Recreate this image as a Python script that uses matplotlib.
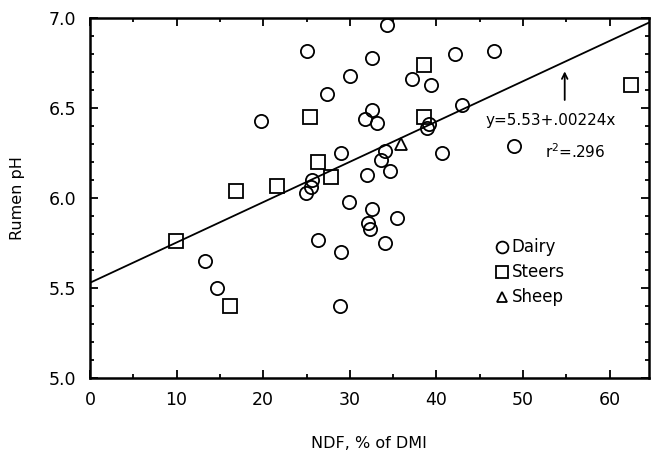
import numpy as np
import matplotlib.pyplot as plt
from matplotlib.ticker import MultipleLocator

# data
dairy_x = [25.1, 32.5, 34.3, 30.0, 27.4, 19.7, 32.5, 31.8, 33.1, 42.1, 46.6,
           37.2, 39.4, 43.0, 39.1, 38.9, 48.9, 34.0, 33.6, 40.6, 32.0, 34.6,
           29.0, 25.6, 25.5, 24.9, 29.9, 32.6, 32.1, 32.3, 35.4, 34.1, 26.3,
           29.0, 13.3, 14.7, 28.9]
dairy_y = [6.82, 6.78, 6.96, 6.68, 6.58, 6.43, 6.49, 6.44, 6.42, 6.80, 6.82,
           6.66, 6.63, 6.52, 6.41, 6.39, 6.29, 6.26, 6.21, 6.25, 6.13, 6.15,
           6.25, 6.10, 6.06, 6.03, 5.98, 5.94, 5.86, 5.83, 5.89, 5.75, 5.77,
           5.70, 5.65, 5.50, 5.40]
steers_x = [25.4, 26.3, 27.8, 21.6, 16.9, 9.9, 16.2, 38.6, 38.6, 62.4]
steers_y = [6.45, 6.20, 6.12, 6.07, 6.04, 5.76, 5.40, 6.74, 6.45, 6.63]
sheep_x = [35.9]
sheep_y = [6.30]

intercept = 5.53
slope = 0.0224

plt.rcParams['font.family'] = ['DejaVu Sans']

fig = plt.figure(figsize=(6.52, 4.54), dpi=100)
ax = fig.add_axes([0.138, 0.167, 0.857, 0.793])

mk = dict(linestyle='none', markerfacecolor='none', markeredgecolor='black',
          markeredgewidth=1.3)
ax.plot(dairy_x, dairy_y, marker='o', markersize=9.5, **mk)
ax.plot(steers_x, steers_y, marker='s', markersize=9.5, **mk)
ax.plot(sheep_x, sheep_y, marker='^', markersize=8, **mk)

xl = np.array([0, 64.5])
ax.plot(xl, intercept + slope * xl, color='black', lw=1.3)

# arrow + equation
ax.annotate('', xy=(54.8, 6.72), xytext=(54.8, 6.53),
            arrowprops=dict(arrowstyle='->', color='black', lw=1.3))
ax.text(53.2, 6.43, 'y=5.53+.00224x', ha='center', va='center', fontsize=11)
ax.text(56.0, 6.26, r'r$^2$=.296', ha='center', va='center', fontsize=11)

# hand-drawn style legend
leg_y = [5.73, 5.59, 5.45]
leg_lab = ['Dairy', 'Steers', 'Sheep']
leg_mk = ['o', 's', '^']
for yy, lab, m in zip(leg_y, leg_lab, leg_mk):
    ax.plot([47.6], [yy], marker=m, markersize=8.5 if m != '^' else 7, **mk)
    ax.text(48.7, yy, lab, ha='left', va='center', fontsize=12)

ax.set_xlim(0, 64.5)
ax.set_ylim(5.0, 7.0)
ax.xaxis.set_major_locator(MultipleLocator(10))
ax.xaxis.set_minor_locator(MultipleLocator(5))
ax.yaxis.set_major_locator(MultipleLocator(0.5))
ax.yaxis.set_minor_locator(MultipleLocator(0.1))
ax.yaxis.set_major_formatter(plt.FormatStrFormatter('%.1f'))
ax.tick_params(which='both', direction='in', top=True, right=True,
               labelsize=12.5, width=1.3)
ax.tick_params(which='major', length=6)
ax.tick_params(which='minor', length=3)
ax.tick_params(axis='x', pad=9)
ax.tick_params(axis='y', pad=10)
for s in ax.spines.values():
    s.set_linewidth(1.8)

ax.set_xlabel('NDF, % of DMI', fontsize=11.5, labelpad=20)
ax.set_ylabel('Rumen pH', fontsize=11.5, labelpad=17)

fig.savefig('out.png', dpi=100)
